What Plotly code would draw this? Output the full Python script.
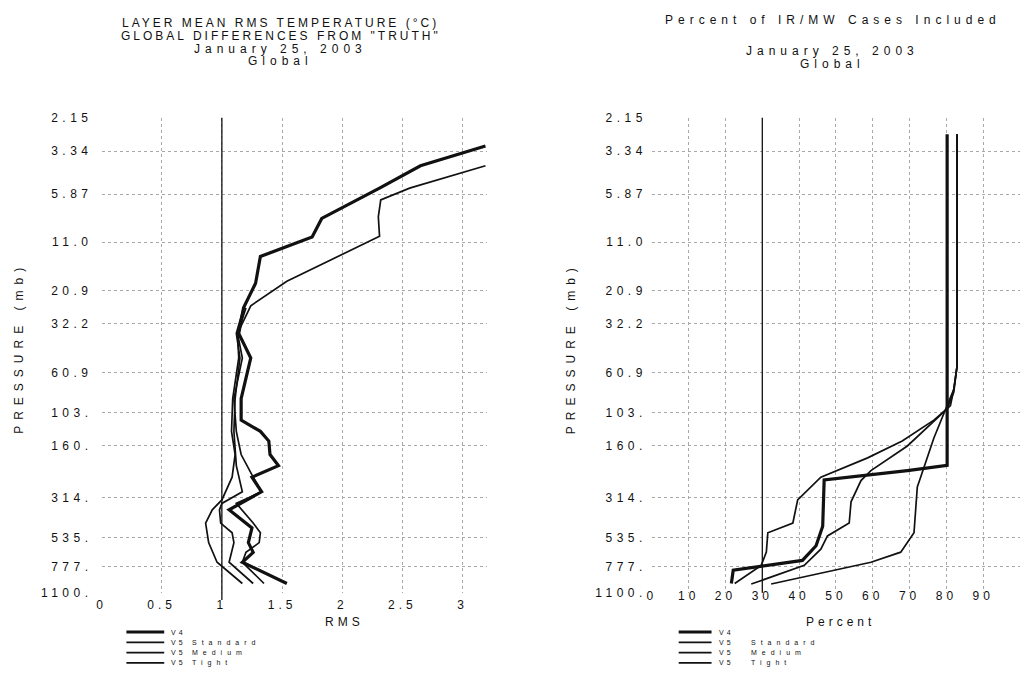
import math
import plotly.graph_objects as go

# ---------------- data ----------------
TITLE_LEFT = ["LAYER MEAN RMS TEMPERATURE (°C)", 'GLOBAL DIFFERENCES FROM "TRUTH"',
              "January 25, 2003", "Global"]
TITLE_RIGHT = ["Percent of IR/MW Cases Included", "January 25, 2003", "Global"]

PRESSURE_TICKS = [2.15, 3.34, 5.87, 11.0, 20.9, 32.2, 60.9, 103, 160, 314, 535, 777, 1100]
PRESSURE_LABELS = ["2.15", "3.34", "5.87", "11.0", "20.9", "32.2", "60.9",
                   "103.", "160.", "314.", "535.", "777.", "1100."]
RMS_TICKS = [0, 0.5, 1, 1.5, 2, 2.5, 3]
RMS_LABELS = ["0", "0.5", "1", "1.5", "2", "2.5", "3"]
PCT_TICKS = [0, 10, 20, 30, 40, 50, 60, 70, 80, 90, 100]
PCT_LABELS = ["0", "10", "20", "30", "40", "50", "60", "70", "80", "90", "100"]

SERIES_VERSION = ["V4", "V5", "V5", "V5"]
SERIES_TYPE = ["", "Standard", "Medium", "Tight"]
SERIES_WIDTH = [3.2, 1.7, 1.7, 1.7]

# Left panel: layer mean RMS temperature (pressure mb, RMS value)
RMS_V4_P = [3.12, 4.04, 5.42, 8.07, 10.3, 13.3, 18.9, 26.1, 36.5, 50.4, 86, 114, 132, 150,
            179, 207, 241, 292, 370, 469, 569, 647, 736, 973]
RMS_V4_V = [3.19, 2.65, 2.31, 1.83, 1.75, 1.32, 1.28, 1.18, 1.14, 1.24, 1.16, 1.16, 1.32, 1.39,
            1.40, 1.47, 1.25, 1.33, 1.06, 1.25, 1.22, 1.26, 1.17, 1.54]
RMS_STD_P = [4.04, 5.42, 6.33, 7.9, 10.2, 18.4, 25.4, 36.5, 50.4, 86, 132, 179, 241, 292,
             340, 440, 500, 569, 647, 736, 973]
RMS_STD_V = [3.19, 2.56, 2.32, 2.30, 2.31, 1.54, 1.24, 1.13, 1.17, 1.10, 1.12, 1.16, 1.26, 1.33,
             1.12, 1.26, 1.32, 1.31, 1.20, 1.17, 1.35]
RMS_MED_P = [26.1, 36.5, 50.4, 86, 132, 207, 292, 340, 370, 440, 500, 569, 736, 973]
RMS_MED_V = [1.18, 1.12, 1.15, 1.11, 1.10, 1.12, 1.17, 1.00, 0.98, 0.99, 1.085, 1.10, 1.06, 1.26]
RMS_TIGHT_P = [26.1, 36.5, 50.4, 86, 132, 179, 241, 325, 370, 440, 569, 736, 973]
RMS_TIGHT_V = [1.20, 1.13, 1.14, 1.09, 1.08, 1.11, 1.085, 1.00, 0.92, 0.865, 0.89, 0.96, 1.17]

# Right panel: percent of IR/MW cases included (pressure mb, percent)
PCT_V4_P = [2.67, 206, 221, 250, 459, 593, 719, 818, 973]
PCT_V4_V = [80.2, 80.2, 69.4, 46.8, 46.4, 44.6, 40.9, 22.1, 21.6]
PCT_STD_P = [2.67, 56, 76, 94, 111, 160, 221, 252, 333, 440, 521, 620, 767, 980]
PCT_STD_V = [82.9, 82.9, 82.0, 81.1, 77.5, 69.4, 59.5, 56.8, 54.1, 53.6, 47.7, 45.9, 41.4, 27.0]
PCT_MED_P = [2.67, 56, 79, 98, 114, 150, 187, 241, 325, 440, 500, 645, 767, 973]
PCT_MED_V = [82.9, 82.9, 82.0, 80.2, 76.6, 68.0, 58.6, 45.9, 39.6, 38.3, 31.5, 31.1, 29.7, 22.5]
PCT_TIGHT_P = [2.67, 56, 76, 94, 144, 241, 274, 500, 645, 736, 980]
PCT_TIGHT_V = [82.9, 82.9, 82.0, 80.2, 76.6, 73.0, 72.1, 71.2, 67.6, 59.5, 32.4]

REF_LINE_RMS = 1.0
REF_LINE_PCT = 30.0

# ---------------- layout helpers ----------------
W, H = 1029, 688
FONT = "Liberation Sans"
INK = "#111111"


def sp(s, ls):
    return f'<span style="letter-spacing:{ls}px">{s}</span>'


def px_x(x):
    return x / W


def px_y(y):
    return 1 - y / H


fig = go.Figure()

left_p = [RMS_V4_P, RMS_STD_P, RMS_MED_P, RMS_TIGHT_P]
left_v = [RMS_V4_V, RMS_STD_V, RMS_MED_V, RMS_TIGHT_V]
right_p = [PCT_V4_P, PCT_STD_P, PCT_MED_P, PCT_TIGHT_P]
right_v = [PCT_V4_V, PCT_STD_V, PCT_MED_V, PCT_TIGHT_V]

for i in range(4):
    name = (SERIES_VERSION[i] + " " + SERIES_TYPE[i]).strip()
    fig.add_trace(go.Scatter(x=left_v[i], y=left_p[i], mode="lines", name=name,
                             line=dict(color=INK, width=SERIES_WIDTH[i]),
                             xaxis="x", yaxis="y", showlegend=False))
    fig.add_trace(go.Scatter(x=right_v[i], y=right_p[i], mode="lines", name=name,
                             line=dict(color=INK, width=SERIES_WIDTH[i]),
                             xaxis="x2", yaxis="y2", showlegend=False))

yrange = [math.log10(1100), math.log10(2.15)]
ydom = [px_y(598), px_y(113)]
tickfont = dict(family=FONT, size=12, color=INK)
grid = dict(showgrid=True, gridcolor="#a8a8a8", griddash="dot", gridwidth=1,
            zeroline=False, showline=False, ticks="")

fig.update_layout(
    width=W, height=H, margin=dict(l=0, r=0, t=0, b=0),
    paper_bgcolor="white", plot_bgcolor="white", showlegend=False,
    xaxis=dict(domain=[px_x(97), px_x(484)], range=[0, 3.2], tickvals=RMS_TICKS,
               ticktext=[sp(t, 4) for t in RMS_LABELS], tickfont=tickfont,
               anchor="y", ticklabelstandoff=3, **grid),
    yaxis=dict(domain=ydom, type="log", range=yrange, autorange=False,
               tickvals=PRESSURE_TICKS, ticktext=[sp(t, 4.5) for t in PRESSURE_LABELS],
               tickfont=tickfont, anchor="x", ticklabelstandoff=8, **grid),
    xaxis2=dict(domain=[px_x(650), px_x(1020)], range=[0, 100], tickvals=PCT_TICKS,
                ticktext=[sp(t, 4) for t in PCT_LABELS], tickfont=tickfont,
                anchor="y2", ticklabelstandoff=-6, **grid),
    yaxis2=dict(domain=ydom, type="log", range=yrange, autorange=False,
                tickvals=PRESSURE_TICKS, ticktext=[sp(t, 4.5) for t in PRESSURE_LABELS],
                tickfont=tickfont, anchor="x2", ticklabelstandoff=4, **grid),
)

# reference vertical lines
fig.add_shape(type="line", xref="x", yref="y domain", x0=REF_LINE_RMS, x1=REF_LINE_RMS,
              y0=-0.015, y1=1, line=dict(color=INK, width=1.3))
fig.add_shape(type="line", xref="x2", yref="y2 domain", x0=REF_LINE_PCT, x1=REF_LINE_PCT,
              y0=0, y1=1, line=dict(color=INK, width=1.3))

ann = []


def title_ls(txt):
    # upper-case lines are already wide; mixed-case lines get wider tracking
    return 3 if txt.upper() == txt else 5


# titles
for txt, y in zip(TITLE_LEFT, [16, 29.5, 42.5, 55.5]):
    ann.append(dict(text=sp(txt, title_ls(txt)), x=px_x(277), y=px_y(y), xref="paper",
                    yref="paper", xanchor="center", yanchor="middle", showarrow=False,
                    font=dict(family=FONT, size=12, color=INK)))
for txt, y in zip(TITLE_RIGHT, [13, 45, 58]):
    ann.append(dict(text=sp(txt, title_ls(txt)), x=px_x(832), y=px_y(y), xref="paper",
                    yref="paper", xanchor="center", yanchor="middle", showarrow=False,
                    font=dict(family=FONT, size=12, color=INK)))

# axis titles
for x, txt in [(341, "RMS"), (840, "Percent")]:
    ann.append(dict(text=sp(txt, 4), x=px_x(x), y=px_y(628), xref="paper", yref="paper",
                    xanchor="center", yanchor="middle", showarrow=False,
                    font=dict(family=FONT, size=12, color=INK)))
for x in [14, 569]:
    ann.append(dict(text=sp("PRESSURE (mb)", 6), x=px_x(x), y=px_y(348), xref="paper",
                    yref="paper", xanchor="center", yanchor="middle", showarrow=False,
                    textangle=-90, font=dict(family=FONT, size=12, color=INK)))

# legends (manual, compact)
legend_rows = [638, 648.5, 659, 669.5]
for (lx0, lx1, tx, ty) in [(122, 160, 165, 186), (677, 710, 715, 748)]:
    for i in range(4):
        y = px_y(legend_rows[i])
        fig.add_shape(type="line", xref="paper", yref="paper", x0=px_x(lx0), x1=px_x(lx1),
                      y0=y, y1=y, line=dict(color=INK, width=SERIES_WIDTH[i]))
        ann.append(dict(text=sp(SERIES_VERSION[i], 3), x=px_x(tx), y=y, xref="paper",
                        yref="paper", xanchor="left", yanchor="middle", showarrow=False,
                        font=dict(family=FONT, size=7, color=INK)))
        if SERIES_TYPE[i]:
            ann.append(dict(text=sp(SERIES_TYPE[i], 5), x=px_x(ty), y=y, xref="paper",
                            yref="paper", xanchor="left", yanchor="middle", showarrow=False,
                            font=dict(family=FONT, size=7, color=INK)))

fig.update_layout(annotations=ann)
fig.write_html("out.html")
